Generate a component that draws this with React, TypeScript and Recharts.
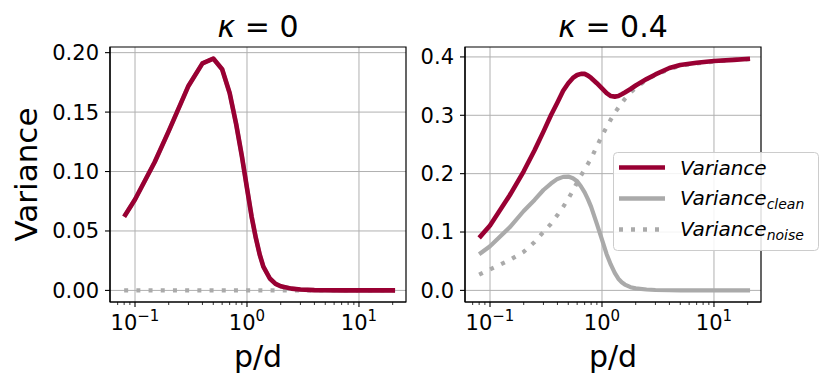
import React from 'react';
import { LineChart, Line, XAxis, YAxis, CartesianGrid, ReferenceArea, Legend, Label } from 'recharts';

const FONT = '"DejaVu Sans", sans-serif';
const RED = '#990033';
const GRAY = '#aaaaaa';

// kappa = 0 : p/d sample points and values
const k0Pd = [0.08, 0.1, 0.15, 0.2, 0.3, 0.4, 0.5, 0.6, 0.7, 0.8, 0.9, 1.0, 1.1, 1.2, 1.3, 1.4, 1.6, 1.8, 2.0, 2.5, 3, 4, 5, 7, 10, 15, 21];
const k0Variance = [0.062, 0.0765, 0.108, 0.134, 0.172, 0.191, 0.195, 0.186, 0.166, 0.140, 0.113, 0.086, 0.062, 0.044, 0.030, 0.020, 0.010, 0.0055, 0.0035, 0.0015, 0.0007, 0.0002, 0.0001, 0, 0, 0, 0];
const k0Clean = [0.062, 0.0765, 0.108, 0.134, 0.172, 0.191, 0.195, 0.186, 0.166, 0.140, 0.113, 0.086, 0.062, 0.044, 0.030, 0.020, 0.010, 0.0055, 0.0035, 0.0015, 0.0007, 0.0002, 0.0001, 0, 0, 0, 0];
const k0Noise = [0, 0, 0, 0, 0, 0, 0, 0, 0, 0, 0, 0, 0, 0, 0, 0, 0, 0, 0, 0, 0, 0, 0, 0, 0, 0, 0];

// kappa = 0.4 : p/d sample points and values
const k4Pd = [0.08, 0.1, 0.15, 0.2, 0.25, 0.3, 0.35, 0.4, 0.45, 0.5, 0.55, 0.6, 0.65, 0.7, 0.75, 0.8, 0.9, 1.0, 1.1, 1.2, 1.3, 1.4, 1.5, 1.6, 1.8, 2.0, 2.5, 3, 4, 5, 7, 10, 15, 21];
const k4Variance = [0.090, 0.111, 0.163, 0.204, 0.240, 0.272, 0.300, 0.322, 0.342, 0.355, 0.364, 0.369, 0.371, 0.371, 0.368, 0.364, 0.355, 0.346, 0.338, 0.333, 0.332, 0.333, 0.336, 0.339, 0.345, 0.351, 0.362, 0.370, 0.381, 0.386, 0.390, 0.393, 0.395, 0.397];
const k4Clean = [0.062, 0.0757, 0.108, 0.136, 0.155, 0.172, 0.183, 0.191, 0.1945, 0.195, 0.192, 0.187, 0.178, 0.168, 0.156, 0.143, 0.114, 0.087, 0.062, 0.044, 0.030, 0.020, 0.014, 0.010, 0.0055, 0.0035, 0.0015, 0.0007, 0.0002, 0.0001, 0, 0, 0, 0];
const k4Noise = [0.027, 0.036, 0.052, 0.066, 0.083, 0.100, 0.114, 0.129, 0.143, 0.157, 0.171, 0.185, 0.197, 0.207, 0.217, 0.226, 0.247, 0.265, 0.280, 0.293, 0.304, 0.313, 0.321, 0.328, 0.339, 0.347, 0.361, 0.369, 0.379, 0.385, 0.389, 0.392, 0.395, 0.396];

const xDomain = [0.0598, 26.3];
const k0YDomain = [-0.00975, 0.20475];
const k4YDomain = [-0.0199, 0.417];
const k0YTicks = [0, 0.05, 0.1, 0.15, 0.2];
const k4YTicks = [0, 0.1, 0.2, 0.3, 0.4];
const xMajorTicks = [0.1, 1, 10];
const xMinorTicks = [0.07, 0.08, 0.09, 0.2, 0.3, 0.4, 0.5, 0.6, 0.7, 0.8, 0.9, 2, 3, 4, 5, 6, 7, 8, 9, 20];
const kappaLabels = ['0', '0.4'];
const legendNames = ['Variance', 'Variance', 'Variance'];
const legendSubs = ['', 'clean', 'noise'];
const legendColors = [RED, GRAY, GRAY];
const legendDash = ['', '', '4 8'];

const XTick = (props: any) => {
  const { x, y, payload } = props;
  const v = payload.value;
  const major = xMajorTicks.includes(v);
  const exp = Math.round(Math.log10(v));
  return (
    <g>
      <line x1={x} x2={x} y1={y} y2={y + (major ? 5 : 3)} stroke="#000" strokeWidth={major ? 1.1 : 0.8} />
      {major && (
        <text x={x} y={y + 28} textAnchor="middle" fontSize={21} fontFamily={FONT} fill="#000">
          10<tspan dy={-9} fontSize={15}>{exp < 0 ? '\u2212' + -exp : String(exp)}</tspan>
        </text>
      )}
    </g>
  );
};

const LegendBox = () => (
  <svg width={206} height={99} style={{ display: 'block', overflow: 'visible' }}>
    <rect x={0.5} y={0.5} width={205} height={98} rx={4} fill="#fff" fillOpacity={0.85} stroke="#cccccc" strokeWidth={1} />
    {legendNames.map((n, i) => (
      <g key={i}>
        <line x1={6} x2={52} y1={15.5 + i * 31} y2={15.5 + i * 31} stroke={legendColors[i]} strokeWidth={4.5} strokeDasharray={legendDash[i] || undefined} />
        <text x={67} y={22.5 + i * 30.5} fontSize={20} fontStyle="italic" fontFamily={FONT} fill="#000">
          {n}
          {legendSubs[i] && <tspan fontSize={14} dy={4}>{legendSubs[i]}</tspan>}
        </text>
      </g>
    ))}
  </svg>
);

function Panel(p: any) {
  const { left, width, yAxisWidth, marginRight, pd, variance, clean, noise, yDomain, yTicks, yDigits, showYLabel, showLegend, kappa } = p;
  const data = pd.map((x: number, i: number) => ({ x, variance: variance[i], clean: clean[i], noise: noise[i] }));
  const cx = yAxisWidth + (width - yAxisWidth - marginRight) / 2;
  return (
    <div style={{ position: 'absolute', left, top: 0, width, height: 388 }}>
      <LineChart width={width} height={388} data={data} margin={{ top: 47, right: marginRight, bottom: 0, left: 0 }}>
        <CartesianGrid stroke="#b0b0b0" strokeWidth={1} verticalValues={xMajorTicks} horizontalValues={yTicks} />
        <XAxis
          dataKey="x"
          type="number"
          scale="log"
          domain={xDomain}
          allowDataOverflow
          ticks={[...xMinorTicks, ...xMajorTicks]}
          interval={0}
          tickLine={false}
          tickSize={0}
          tickMargin={0}
          height={86}
          axisLine={{ stroke: '#000', strokeWidth: 1.2 }}
          tick={<XTick />}
        >
          <Label
            content={(lp: any) => {
              const vb = lp.viewBox;
              return (
                <text x={vb.x + vb.width / 2} y={vb.y + 65} textAnchor="middle" fontSize={30} fontFamily={FONT} fill="#000">
                  p/d
                </text>
              );
            }}
          />
        </XAxis>
        <YAxis
          type="number"
          domain={yDomain}
          allowDataOverflow
          ticks={yTicks}
          interval={0}
          width={yAxisWidth}
          tickSize={5}
          tickMargin={6}
          tickFormatter={(v: number) => v.toFixed(yDigits)}
          tick={{ fontSize: 21, fill: '#000', fontFamily: FONT }}
          tickLine={{ stroke: '#000', strokeWidth: 1.1 }}
          axisLine={{ stroke: '#000', strokeWidth: 1.2 }}
        >
          {showYLabel && (
            <Label
              content={(lp: any) => {
                const vb = lp.viewBox;
                const lx = vb.x + 37;
                const ly = vb.y + vb.height / 2;
                return (
                  <text x={lx} y={ly} transform={`rotate(-90 ${lx} ${ly})`} textAnchor="middle" fontSize={31} fontFamily={FONT} fill="#000">
                    Variance
                  </text>
                );
              }}
            />
          )}
        </YAxis>
        <Line type="linear" dataKey="clean" name="clean" stroke={GRAY} strokeWidth={4.2} strokeLinejoin="round" dot={false} activeDot={false} isAnimationActive={false} />
        <Line type="linear" dataKey="noise" name="noise" stroke={GRAY} strokeWidth={4.2} strokeDasharray="4 8.2" dot={false} activeDot={false} isAnimationActive={false} />
        <Line type="linear" dataKey="variance" name="variance" stroke={RED} strokeWidth={4.6} strokeLinejoin="round" dot={false} activeDot={false} isAnimationActive={false} />
        <ReferenceArea x1={xDomain[0]} x2={xDomain[1]} y1={yDomain[0]} y2={yDomain[1]} fill="none" fillOpacity={0} stroke="#000" strokeWidth={1.2} ifOverflow="visible" />
        {showLegend && (
          <Legend
            layout="horizontal"
            verticalAlign="middle"
            align="center"
            content={() => <LegendBox />}
            wrapperStyle={{ position: 'absolute', left: 198, top: 152, width: 206, height: 99 }}
          />
        )}
      </LineChart>
      <svg width={width} height={47} style={{ position: 'absolute', left: 0, top: 0, pointerEvents: 'none' }}>
        <text x={cx} y={37} textAnchor="middle" fontSize={30} fontFamily={FONT} fill="#000">
          <tspan fontStyle="italic">κ</tspan> = {kappa}
        </text>
      </svg>
    </div>
  );
}

export default function App() {
  return (
    <div style={{ position: 'absolute', left: 0, top: 0, width: 831, height: 388, background: '#fff', fontFamily: FONT }}>
      <Panel left={0} width={420} yAxisWidth={110} marginRight={14} pd={k0Pd} variance={k0Variance} clean={k0Clean} noise={k0Noise} yDomain={k0YDomain} yTicks={k0YTicks} yDigits={2} showYLabel showLegend={false} kappa={kappaLabels[0]} />
      <Panel left={415} width={416} yAxisWidth={50} marginRight={70} pd={k4Pd} variance={k4Variance} clean={k4Clean} noise={k4Noise} yDomain={k4YDomain} yTicks={k4YTicks} yDigits={1} showYLabel={false} showLegend kappa={kappaLabels[1]} />
    </div>
  );
}
